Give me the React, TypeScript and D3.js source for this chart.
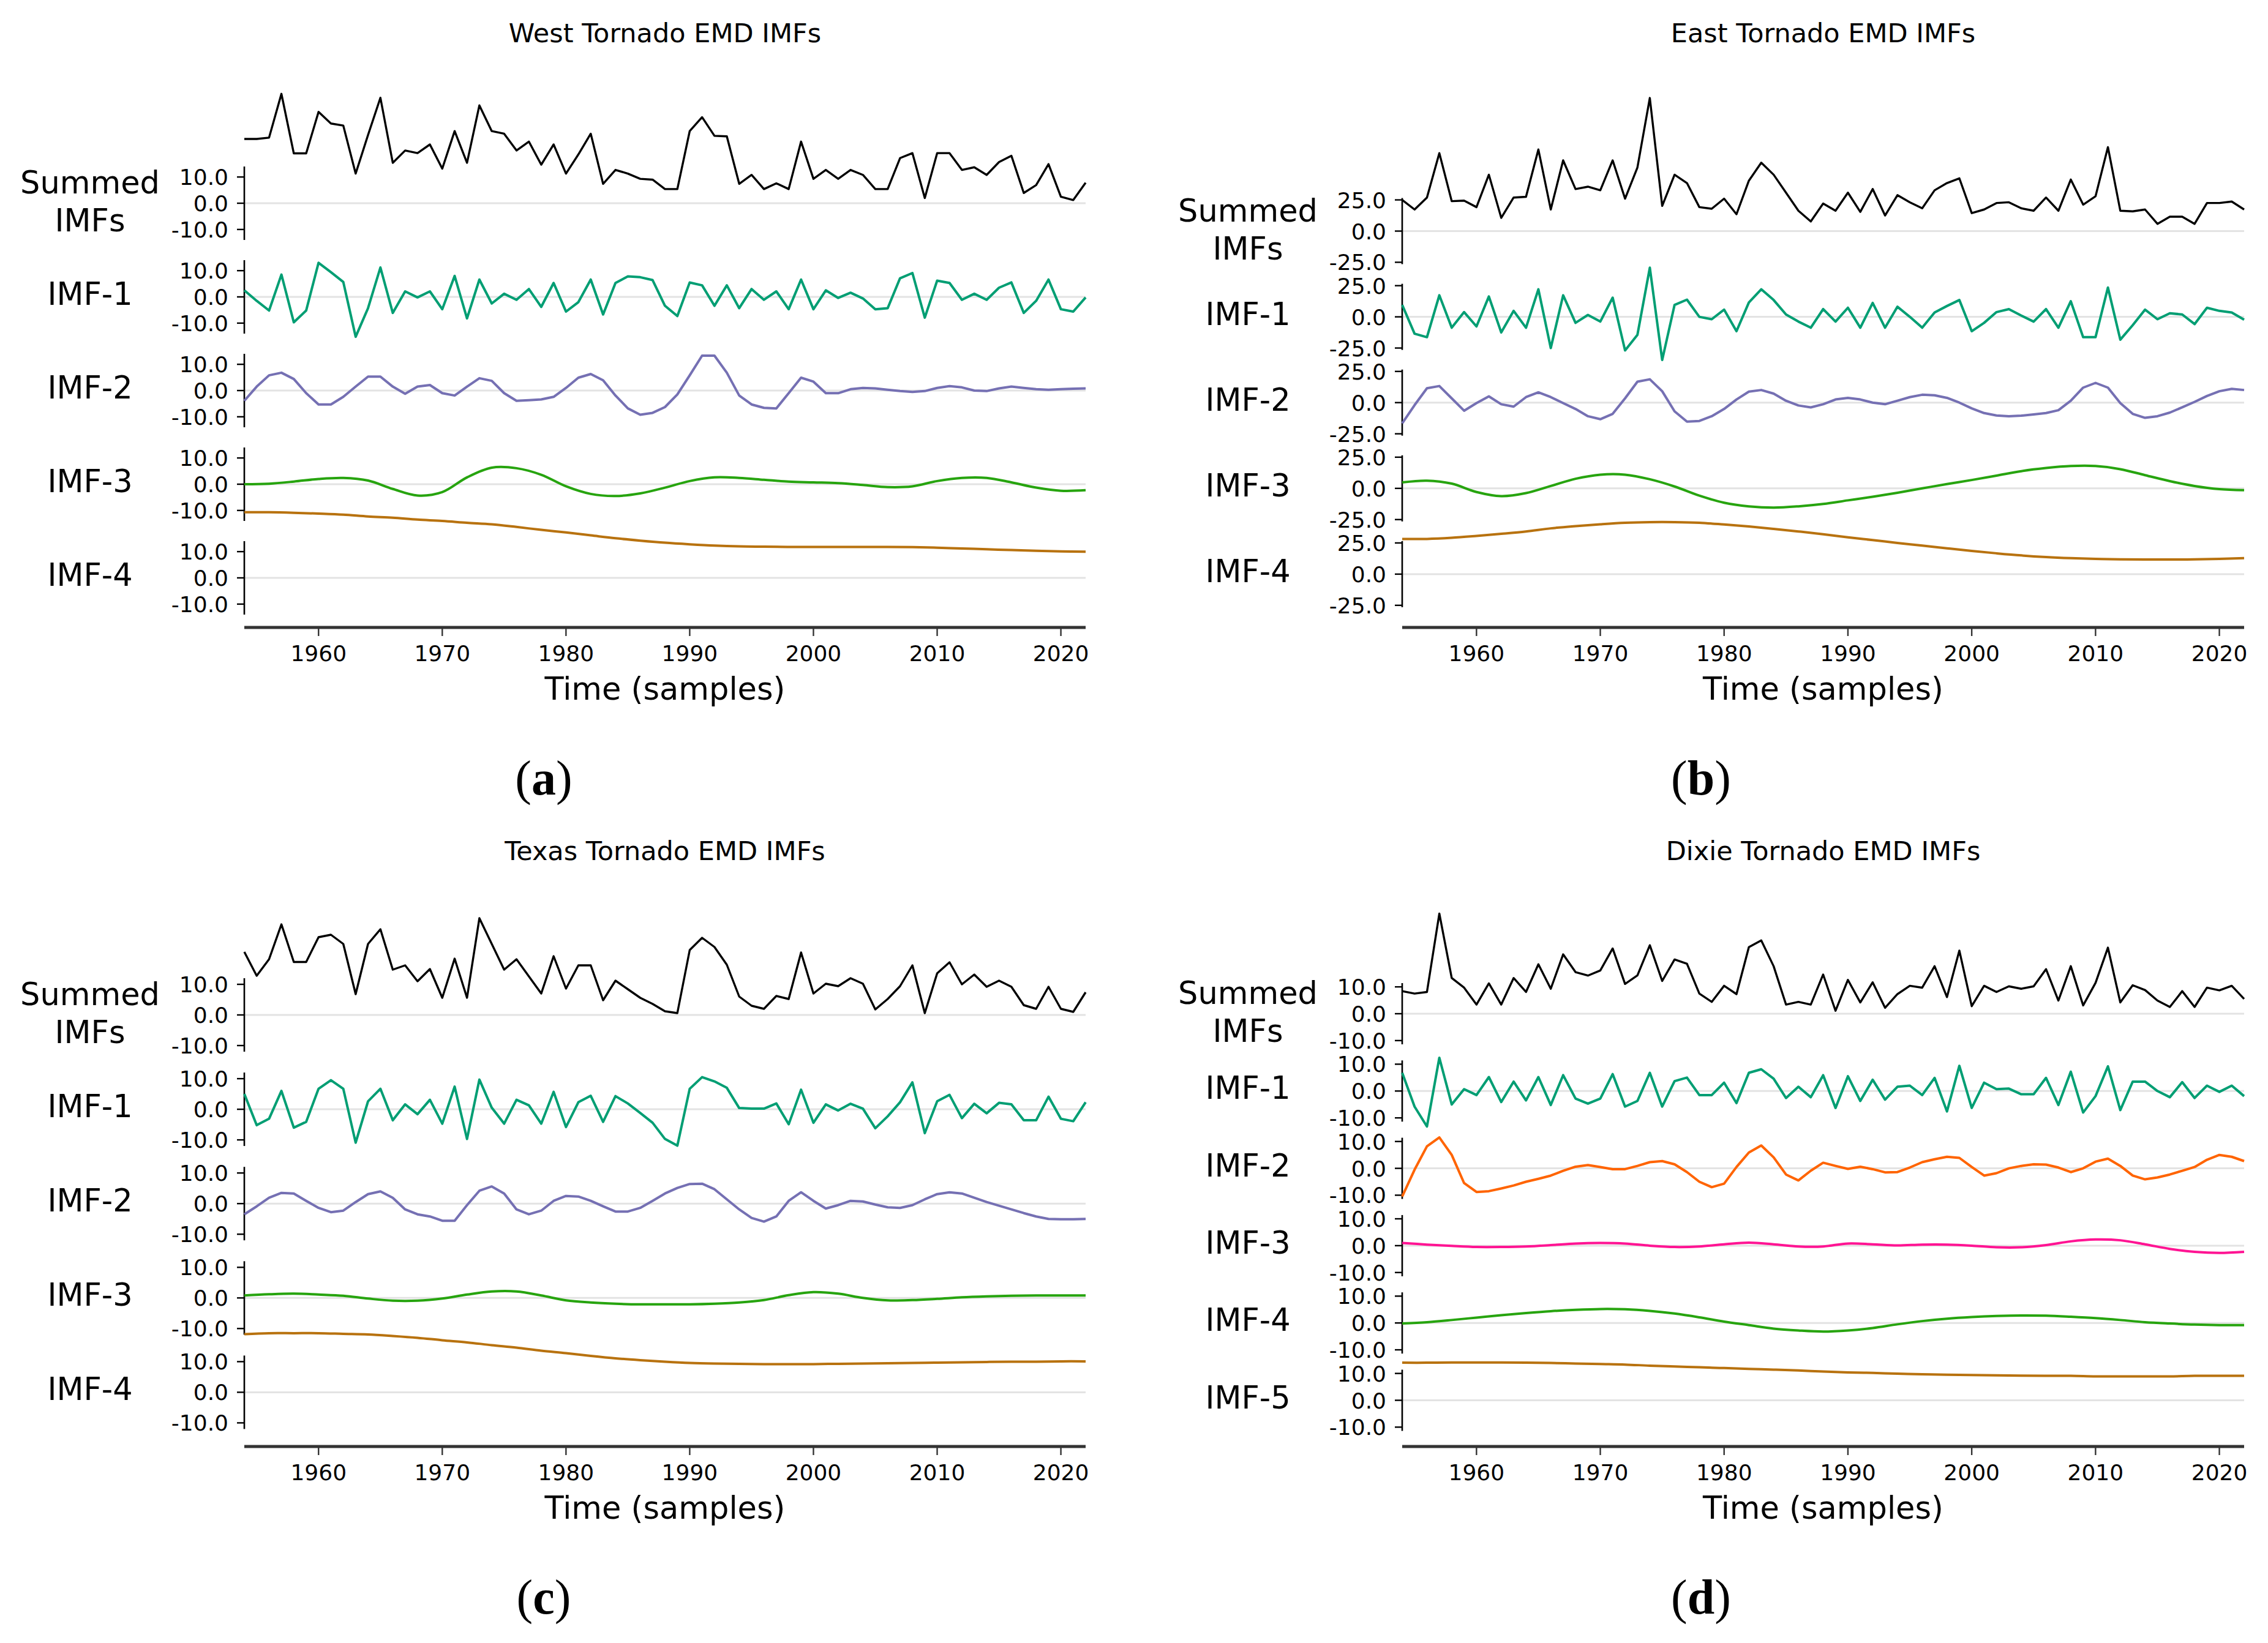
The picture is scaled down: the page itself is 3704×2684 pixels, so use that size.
import React from 'react';
import * as d3 from 'd3';

// ---- categories / ticks ----
const YEARS = d3.range(1954, 2023);          // yearly samples, 69 points
const SMOOTH_YEARS = d3.range(1954, 2023, 2); // sampled every 2 years for the slow IMFs
const YEAR_TICKS = [1960, 1970, 1980, 1990, 2000, 2010, 2020];
const TICKS_10 = [10, 0, -10];
const TICKS_25 = [25, 0, -25];

// ---- West ----
const WEST_SUMMED = [
  24.5, 24.5, 25, 41.7, 19, 19, 34.8, 30.4, 29.6, 11.3,
  26, 40.2, 15.4, 20.1, 19.1, 22.4, 13.2, 27.5, 15.4, 37.3,
  27.5, 26.5, 20.1, 23.5, 14.7, 22.4, 11.3, 18.6, 26.5, 7.4,
  12.7, 11.3, 9.3, 9, 5.4, 5.4, 27.5, 32.8, 25.7, 25.5,
  7.4, 10.8, 5.4, 7.6, 5.4, 23.5, 9.3, 12.7, 9.3, 12.7,
  10.8, 5.4, 5.4, 17.2, 19.1, 2, 19.1, 19.1, 12.7, 13.7,
  10.8, 15.7, 18.1, 3.9, 6.9, 14.9, 2.5, 1.2, 7.8,
];
const WEST_IMF1 = [
  2.5, -1.5, -5.2, 8.5, -9.7, -5.2, 13, 9.4, 5.7, -15.2,
  -4.3, 11.2, -6.1, 2.1, -0.2, 2.1, -4.7, 8, -8.2, 6.6,
  -2.5, 1.2, -1.1, 3, -3.8, 5.3, -5.6, -2, 6.6, -6.7,
  5.3, 7.8, 7.5, 6.4, -3.4, -7.3, 5.5, 4.4, -3.4, 4.4,
  -4.3, 3, -1.1, 2.1, -4.7, 6.6, -4.7, 2.5, -0.4, 1.6,
  -0.6, -4.7, -4.3, 7.1, 9.1, -7.9, 6.2, 5.3, -1.1, 1.2,
  -1.1, 3.5, 5.5, -6.1, -1.5, 6.6, -4.7, -5.6, -0.2,
];
const WEST_IMF2 = [
  -3.9, 1.5, 5.8, 6.8, 4.4, -1, -5.3, -5.3, -2.4, 1.5,
  5.3, 5.3, 1.5, -1.2, 1.5, 2.1, -1, -1.9, 1.5, 4.7,
  3.7, -1, -3.9, -3.7, -3.4, -2.4, 1, 4.9, 6.3, 3.9,
  -1.9, -6.8, -9.2, -8.5, -6.3, -1.5, 5.8, 13.3, 13.3, 6.8,
  -1.9, -5.3, -6.6, -6.8, -1, 4.9, 3.4, -1, -1, 0.5,
  1, 0.8, 0.3, -0.2, -0.5, -0.2, 1, 1.7, 1.2, 0,
  -0.2, 0.8, 1.5, 1, 0.5, 0.3, 0.5, 0.7, 0.8,
];
const WEST_IMF3 = [
  0, 0.2, 1, 2, 2.4, 1.4, -1.8, -4.3, -3, 2.6, 6.3, 6.1, 3.6, -0.8, -3.7, -4.5, -3.5, -1.3,
  1.2, 2.6, 2.4, 1.7, 1, 0.7, 0.4, -0.3, -1.1, -0.8, 1.2, 2.4, 2.4, 0.7, -1.3, -2.5, -2.3,
];
const WEST_IMF4 = [
  25, 25, 24.8, 24.5, 24.1, 23.4, 22.9, 22.2, 21.7, 21, 20.4, 19.4, 18.3, 17.3, 16.2, 15.1, 14.2, 13.4,
  12.8, 12.3, 12, 11.9, 11.8, 11.8, 11.8, 11.8, 11.8, 11.7, 11.5, 11.2, 10.9, 10.6, 10.3, 10.1, 10,
];

// ---- East ----
const EAST_SUMMED = [
  25, 17.3, 26.9, 62.5, 24, 24.4, 19.2, 45.2, 10.6, 26.9,
  27.5, 65.4, 17.3, 56.7, 33.7, 35.6, 32.7, 56.7, 26, 51,
  106.7, 20.2, 45.2, 38.5, 19.2, 17.9, 26, 13.5, 40.4, 54.8,
  45.2, 30.8, 16.3, 7.7, 22.1, 16.3, 30.8, 15.4, 33.7, 12.5,
  28.8, 23.1, 18.3, 32.7, 38.5, 42.3, 14.4, 17.3, 22.5, 23.1,
  18.3, 16.3, 26.9, 16.3, 41.3, 21.2, 27.9, 67.3, 16.3, 15.8,
  17.3, 5.8, 11.5, 11.5, 5.8, 22.5, 22.5, 23.7, 17.3,
];
const EAST_IMF1 = [
  9.6, -13.5, -16.3, 17.3, -8.7, 3.8, -7.7, 16.3, -12.5, 4.8,
  -8.7, 22.1, -25, 17.3, -4.8, 1.5, -3.8, 15.4, -26.9, -14.4,
  39.4, -34.6, 9.6, 13.8, 0, -1.9, 5.8, -11.5, 11.5, 22.1,
  13.5, 1.9, -3.8, -8.7, 6.2, -3.8, 7.3, -8.7, 11.2, -8.7,
  8.1, 0, -8.7, 3.5, 8.7, 13.5, -11.5, -4.8, 3.8, 6.2,
  1, -3.8, 6.2, -8.7, 12.5, -16.3, -16.3, 23.5, -18.3, -6.7,
  5.8, -1.9, 2.9, 1.9, -5.8, 7.3, 4.8, 3.5, -2.3,
];
const EAST_IMF2 = [
  -16.6, -2, 11.5, 13.3, 3.4, -6.5, -0.4, 5, -1.3, -3.2,
  4.4, 8.2, 4.4, -0.4, -5.1, -10.9, -13.3, -9, 3.4, 16.8,
  18.7, 9.1, -7, -15.2, -14.7, -10.9, -5.1, 2.5, 8.8, 10.1,
  7.2, 1.5, -2.3, -3.8, -1.3, 2.5, 3.8, 2.5, 0, -1.3,
  1.5, 4.4, 6.3, 5.9, 3.8, 0, -4.6, -8.4, -10.3, -10.9,
  -10.5, -9.5, -8.4, -6.1, 1.5, 12, 15.8, 12, -0.4, -9,
  -12.2, -10.9, -8, -3.8, 0.6, 5.3, 9.1, 11, 10.1,
];
const EAST_IMF3 = [
  4.8, 6.2, 3.8, -2.9, -6.2, -3.8, 1.9, 7.7, 11, 11, 7.3, 1.5, -5.8, -11.5, -14.4, -15.4, -14.4, -12.5,
  -9.6, -6.7, -3.5, 0, 3.5, 6.7, 10.2, 13.8, 16.3, 17.9, 17.9, 15.4, 10.6, 5.8, 1.9, -0.6, -1.5,
];
const EAST_IMF4 = [
  28.2, 28.2, 29.1, 30.6, 32.3, 34.2, 36.7, 38.5, 40, 41.2, 41.7, 41.7, 41.2, 39.8, 38.2, 36.3, 34.2, 32,
  29.5, 27.3, 25, 22.9, 20.7, 18.6, 16.7, 15, 13.7, 12.8, 12.2, 11.8, 11.7, 11.7, 11.8, 12.2, 12.8,
];

// ---- Texas ----
const TEXAS_SUMMED = [
  20.6, 12.8, 18.2, 29.6, 17.3, 17.3, 25.4, 26.2, 23.2, 6.8,
  23.2, 28, 14.8, 16.2, 11, 15, 5.6, 18.4, 5.6, 31.6,
  23.2, 14.8, 18.2, 12.6, 7, 19.2, 8.6, 16.2, 16.2, 4.8,
  11.2, 8.4, 5.6, 3.6, 1.2, 0.6, 21.2, 25.2, 22.2, 16.4,
  6, 3, 2, 6.2, 5.2, 20.4, 7, 10.2, 9.4, 12,
  10.2, 1.8, 5.2, 9.4, 16.2, 0.6, 13.6, 17.2, 10, 13.2,
  9.2, 11.2, 9.2, 3.2, 2, 9.2, 2, 1, 7.4,
];
const TEXAS_IMF1 = [
  5, -5.2, -3.1, 6, -6, -4.1, 6.7, 9.5, 6.7, -10.9,
  2.6, 6.7, -3.6, 1.6, -1.6, 3.1, -4.7, 7.4, -9.7, 9.7,
  0.5, -4.7, 3.1, 1.3, -4.7, 5.7, -5.8, 2.3, 4.4, -4.1,
  4.3, 1.9, -1.2, -4.4, -9.7, -11.9, 6.7, 10.5, 9.1, 7,
  0.4, 0.2, 0.2, 1.9, -4.9, 6.4, -4.4, 1.6, -0.4, 1.8,
  0.2, -6.2, -2.3, 2.3, 8.8, -7.8, 2.6, 4.7, -2.9, 1.8,
  -1.3, 2.1, 1.6, -3.6, -3.6, 4.1, -3.1, -3.9, 2.3,
];
const TEXAS_IMF2 = [
  -3.5, -0.9, 1.9, 3.5, 3.3, 0.9, -1.4, -2.8, -2.3, 0.5,
  3.1, 4, 1.9, -1.9, -3.5, -4.2, -5.6, -5.6, -0.5, 4.2,
  5.6, 3.3, -1.9, -3.5, -2.3, 0.9, 2.5, 2.3, 0.9, -0.9,
  -2.6, -2.6, -1.4, 0.9, 3.3, 5.1, 6.4, 6.5, 4.7, 1.4,
  -1.9, -4.7, -5.9, -4.2, 0.9, 3.7, 0.9, -1.6, -0.5, 0.9,
  0.7, -0.3, -1.2, -1.4, -0.5, 1.4, 3.1, 3.7, 3.3, 1.9,
  0.5, -0.7, -1.9, -3.1, -4.2, -5, -5.1, -5.1, -5,
];
const TEXAS_IMF3 = [
  0.8, 1.2, 1.4, 1.1, 0.7, -0.2, -0.9, -0.9, -0.2, 1.1, 2.1, 2.1, 0.8, -0.8, -1.5, -1.9, -2.1, -2.1,
  -2.1, -1.9, -1.5, -0.7, 0.9, 1.9, 1.4, 0, -0.8, -0.7, -0.3, 0.2, 0.5, 0.7, 0.8, 0.8, 0.8,
];
const TEXAS_IMF4 = [
  19, 19.3, 19.3, 19.3, 19.1, 18.9, 18.4, 17.8, 17, 16.3, 15.4, 14.6, 13.6, 12.8, 11.9, 11.1, 10.5, 10,
  9.6, 9.4, 9.3, 9.2, 9.2, 9.2, 9.3, 9.4, 9.5, 9.6, 9.7, 9.8, 9.9, 10, 10, 10.1, 10.1,
];

// ---- Dixie ----
const DIXIE_SUMMED = [
  8.4, 7.5, 8.1, 37.3, 13.3, 9.7, 3.4, 11.3, 3.4, 13.3,
  8.1, 18.4, 9.3, 22.1, 15.5, 14.2, 16.1, 24.3, 11.1, 14.3,
  25.5, 12.2, 20.2, 18.6, 7.5, 4.4, 10.4, 7.3, 24.8, 27.3,
  17.7, 3.4, 4.4, 3.4, 14.6, 1.1, 12.6, 4.2, 11.7, 2.2,
  7.3, 10.4, 9.7, 17.7, 6.2, 23.5, 2.8, 10.4, 8.1, 10.2,
  9.3, 10.2, 16.6, 4.9, 17.7, 3.1, 11.5, 24.6, 4.2, 10.6,
  8.8, 4.9, 2.5, 8.4, 2.5, 9.7, 8.7, 10.4, 5.5,
];
const DIXIE_IMF1 = [
  6.8, -5.8, -13.2, 12.4, -5, 0.7, -1.5, 5.2, -4.1, 3.5,
  -3.5, 5.2, -5.2, 5.9, -2.8, -4.7, -2.8, 6.3, -5.8, -3.7,
  6.8, -5.8, 3.7, 5, -1.5, -1.5, 3.1, -4.5, 6.8, 8.1,
  4.6, -2.6, 1.6, -2.3, 5.9, -6.3, 5.5, -3.7, 4.2, -3.2,
  1.6, 2, -1.5, 4.9, -7.6, 9.4, -6.3, 3.1, 0.7, 0.9,
  -1.2, -1.2, 4.9, -5.2, 7.2, -8, -1.9, 9.2, -7.1, 3.5,
  3.5, 0, -2.3, 3.3, -2.6, 2, -0.3, 2, -1.9,
];
const DIXIE_IMF2 = [
  -10.5, -0.5, 8.2, 11.5, 5, -5.5, -8.8, -8.5, -7.5, -6.4,
  -5, -3.9, -2.7, -0.9, 0.6, 1.2, 0.5, -0.3, -0.3, 0.9,
  2.3, 2.7, 1.5, -1.4, -5, -7, -5.7, 0.5, 5.9, 8.5,
  4.1, -2.3, -4.5, -0.9, 2.1, 0.9, -0.2, 0.6, -0.3, -1.5,
  -1.4, 0.3, 2.3, 3.4, 4.3, 3.9, 0.5, -2.7, -1.8, 0,
  0.9, 1.5, 1.4, 0.3, -1.4, 0, 2.5, 3.6, 0.9, -2.7,
  -4.1, -3.4, -2.3, -0.9, 0.5, 3.2, 5, 4.3, 2.7,
];
const DIXIE_IMF3 = [
  1, 0.4, -0.1, -0.5, -0.5, -0.3, 0.2, 0.8, 1, 0.8, 0, -0.5, -0.3, 0.5, 1.1, 0.5, -0.3, -0.3,
  0.8, 0.5, 0.1, 0.4, 0.4, 0, -0.6, -0.6, 0.2, 1.6, 2.3, 2, 0.5, -1.2, -2.3, -2.7, -2.3,
];
const DIXIE_IMF4 = [
  -0.2, 0.3, 1.1, 2, 2.9, 3.7, 4.4, 4.9, 5.2, 5.1, 4.5, 3.5, 2.1, 0.5, -0.8, -2.1, -2.8, -3.2,
  -2.8, -1.9, -0.5, 0.7, 1.6, 2.2, 2.6, 2.8, 2.7, 2.3, 1.8, 1.1, 0.3, -0.2, -0.6, -0.8, -0.8,
];
const DIXIE_IMF5 = [
  14, 14, 14.1, 14.1, 14.1, 14, 13.9, 13.7, 13.5, 13.3, 12.9, 12.6, 12.3, 12, 11.7, 11.4, 11.1, 10.7,
  10.4, 10.2, 9.9, 9.7, 9.5, 9.4, 9.3, 9.2, 9.1, 9.1, 8.9, 8.9, 8.9, 8.9, 9.1, 9.1, 9.1,
];

// ---- styling ----
const BLACK = '#000000';
const TEAL = '#009e73';
const PURPLE = '#7570b3';
const GREEN = '#27a40f';
const BROWN = '#b8720f';
const ORANGE = '#ff6400';
const PINK = '#ff1493';
const FONT = '"DejaVu Sans", Verdana, sans-serif';

type Series = { label: string[]; years: number[]; values: number[]; color: string; smooth?: boolean };
type Panel = {
  title: string; tag: string; ticks: number[]; series: Series[];
  x0: number; x1: number; zero0: number; step: number; half: number; lim: number;
  titleY: number; axisY: number; tagX: number; tagY: number;
};

const S = (label: string[], values: number[], color: string): Series => ({ label, years: YEARS, values, color });
const M = (label: string[], values: number[], color: string): Series => ({ label, years: SMOOTH_YEARS, values, color, smooth: true });

const PANELS: Panel[] = [
  {
    title: 'West Tornado EMD IMFs', tag: 'a', ticks: TICKS_10,
    series: [S(['Summed', 'IMFs'], WEST_SUMMED, BLACK), S(['IMF-1'], WEST_IMF1, TEAL), S(['IMF-2'], WEST_IMF2, PURPLE),
      M(['IMF-3'], WEST_IMF3, GREEN), M(['IMF-4'], WEST_IMF4, BROWN)],
    x0: 399, x1: 1773, zero0: 332, step: 153, half: 60, lim: 14, titleY: 69, axisY: 1025, tagX: 888, tagY: 1298,
  },
  {
    title: 'East Tornado EMD IMFs', tag: 'b', ticks: TICKS_25,
    series: [S(['Summed', 'IMFs'], EAST_SUMMED, BLACK), S(['IMF-1'], EAST_IMF1, TEAL), S(['IMF-2'], EAST_IMF2, PURPLE),
      M(['IMF-3'], EAST_IMF3, GREEN), M(['IMF-4'], EAST_IMF4, BROWN)],
    x0: 2290, x1: 3665, zero0: 377.5, step: 140.1, half: 54, lim: 26.5, titleY: 69, axisY: 1025, tagX: 2778, tagY: 1298,
  },
  {
    title: 'Texas Tornado EMD IMFs', tag: 'c', ticks: TICKS_10,
    series: [S(['Summed', 'IMFs'], TEXAS_SUMMED, BLACK), S(['IMF-1'], TEXAS_IMF1, TEAL), S(['IMF-2'], TEXAS_IMF2, PURPLE),
      M(['IMF-3'], TEXAS_IMF3, GREEN), M(['IMF-4'], TEXAS_IMF4, BROWN)],
    x0: 399, x1: 1773, zero0: 1658, step: 154.1, half: 60, lim: 12, titleY: 1405, axisY: 2363, tagX: 888, tagY: 2636,
  },
  {
    title: 'Dixie Tornado EMD IMFs', tag: 'd', ticks: TICKS_10,
    series: [S(['Summed', 'IMFs'], DIXIE_SUMMED, BLACK), S(['IMF-1'], DIXIE_IMF1, TEAL), S(['IMF-2'], DIXIE_IMF2, ORANGE),
      M(['IMF-3'], DIXIE_IMF3, PINK), M(['IMF-4'], DIXIE_IMF4, GREEN), M(['IMF-5'], DIXIE_IMF5, BROWN)],
    x0: 2290, x1: 3665, zero0: 1656, step: 126.3, half: 50, lim: 11.4, titleY: 1405, axisY: 2363, tagX: 2778, tagY: 2636,
  },
];

function EmdPanel({ p }: { p: Panel }) {
  const x = d3.scaleLinear().domain([1954, 2022]).range([p.x0, p.x1]);
  const cx = (p.x0 + p.x1) / 2;

  return (
    <g>
      <text x={cx} y={p.titleY} textAnchor="middle" fontSize={43} fontFamily={FONT} fill="#000">{p.title}</text>

      {p.series.map((s, i) => {
        const zero = p.zero0 + i * p.step;
        const y = d3.scaleLinear().domain([-p.lim, p.lim]).range([zero + p.half, zero - p.half]);
        const line = d3.line<number>()
          .x((_, k) => x(s.years[k]))
          .y(d => y(d))
          .curve(s.smooth ? d3.curveCatmullRom.alpha(0.5) : d3.curveLinear);
        return (
          <g key={i}>
            <line x1={p.x0} x2={p.x1} y1={y(0)} y2={y(0)} stroke="#e3e3e3" strokeWidth={3} />
            <line x1={p.x0} x2={p.x0} y1={y(p.lim)} y2={y(-p.lim)} stroke="#000" strokeWidth={2.6} />
            {p.ticks.map(t => (
              <g key={t}>
                <line x1={p.x0 - 12} x2={p.x0} y1={y(t)} y2={y(t)} stroke="#000" strokeWidth={2.4} />
                <text x={p.x0 - 26} y={y(t) + 13} textAnchor="end" fontSize={36} fontFamily={FONT} fill="#000">
                  {t.toFixed(1)}
                </text>
              </g>
            ))}
            <path d={line(s.values) || ''} fill="none" stroke={s.color}
              strokeWidth={i === 0 ? 3.4 : 4} strokeLinejoin="round" strokeLinecap="butt" />
            {s.label.length === 2 ? (
              <>
                <text x={p.x0 - 252} y={zero - 16} textAnchor="middle" fontSize={51} fontFamily={FONT}>{s.label[0]}</text>
                <text x={p.x0 - 252} y={zero + 46} textAnchor="middle" fontSize={51} fontFamily={FONT}>{s.label[1]}</text>
              </>
            ) : (
              <text x={p.x0 - 252} y={zero + 13} textAnchor="middle" fontSize={51} fontFamily={FONT}>{s.label[0]}</text>
            )}
          </g>
        );
      })}

      <line x1={p.x0} x2={p.x1} y1={p.axisY} y2={p.axisY} stroke="#333" strokeWidth={5} />
      {YEAR_TICKS.map(t => (
        <g key={t}>
          <line x1={x(t)} x2={x(t)} y1={p.axisY} y2={p.axisY + 14} stroke="#333" strokeWidth={2.4} />
          <text x={x(t)} y={p.axisY + 55} textAnchor="middle" fontSize={36} fontFamily={FONT}>{t}</text>
        </g>
      ))}
      <text x={cx} y={p.axisY + 118} textAnchor="middle" fontSize={51} fontFamily={FONT}>Time (samples)</text>

      <text x={p.tagX} y={p.tagY} textAnchor="middle" fontSize={80} fontFamily='"Liberation Serif", "Times New Roman", serif'>
        (<tspan fontWeight="bold">{p.tag}</tspan>)
      </text>
    </g>
  );
}

export default function App() {
  return (
    <svg width={3704} height={2684} viewBox="0 0 3704 2684"
      style={{ position: 'absolute', left: 0, top: 0, background: '#fff' }}>
      <rect width={3704} height={2684} fill="#fff" />
      {PANELS.map(p => <EmdPanel key={p.tag} p={p} />)}
    </svg>
  );
}
